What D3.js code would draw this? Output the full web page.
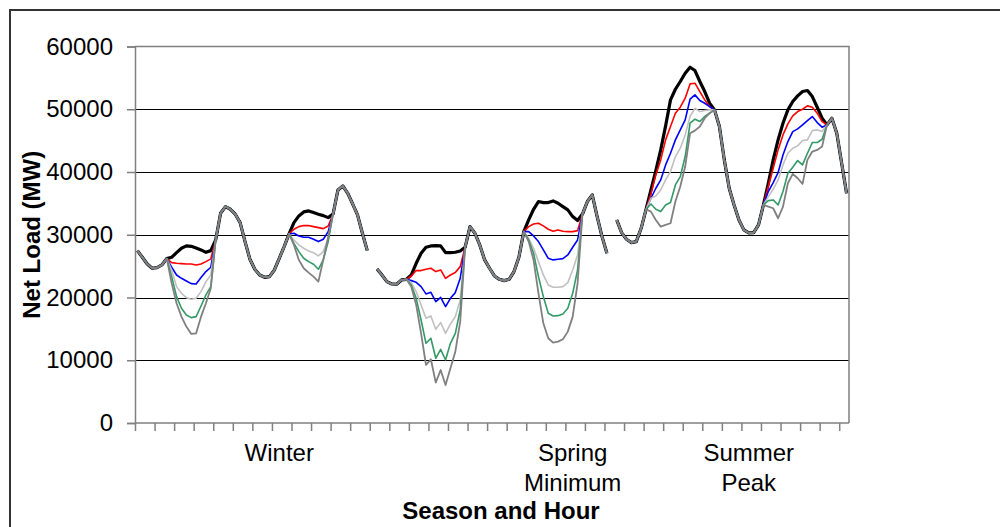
<!DOCTYPE html>
<html>
<head>
<meta charset="utf-8">
<script src="https://cdn.jsdelivr.net/npm/d3@7"></script>
<style>
  body { margin: 0; background: #fff; }
  text { font-family: "Liberation Sans", Arial, sans-serif; fill: #000; }
</style>
</head>
<body>
<script>

    // 146 hour slots: winter 0-47, gap 48, spring 49-96, gap 97, summer 98-145
    var slotCount = 146;

    // load shared by every case outside the solar hours (null = gap or solar window)
    var baseLoad = [
        27470, 26410, 25350, 24660, 24760, 25190, 26200,
        null, null, null, null, null, null, null, null, null,
        29170, 33430, 34490, 34060, 33270, 31940, 28910, 26090,
        24500, 23590, 23220, 23330, 24390, 26250, 28110, 30130,
        null, null, null, null, null, null, null, null,
        33300, 37150, 37780, 36610, 34910, 33160, 30240, 27470,
        null,
        24550, 23590, 22530, 22160, 22110, 22800, 22900,
        null, null, null, null, null, null, null, null, null, null, null,
        28000, 31300, 30240, 28380, 25990, 24660, 23430, 22900, 22690, 22900, 24130, 26410, 30500,
        null, null, null, null, null, null, null, null, null, null, null,
        33300, 35290, 36350, 32890, 29700, 27050,
        null,
        32360, 30340, 29280, 28750, 28910, 31030, 34060,
        null, null, null, null, null, null, null, null, null, null, null, null, null,
        49900, 47240, 41930, 37410, 34750, 32360, 30770, 30290, 30340, 31570, 34750,
        null, null, null, null, null, null, null, null, null, null, null, null,
        47510, 48570, 46180, 41400, 36610
    ];

    // first slot of each solar window (winter d1, d2, spring d1, d2, summer d1, d2)
    var windowStart = [7, 32, 56, 80, 105, 129];

    var blackLoad = [
        [26410, 27150, 27850, 28220, 28160, 27900, 27580, 27200, 27470],
        [31940, 33000, 33640, 33800, 33530, 33270, 33050, 32730],
        [23590, 25450, 27050, 28000, 28220, 28270, 28220, 27150, 27150, 27210, 27420],
        [32360, 34060, 35290, 35130, 35130, 35390, 35020, 34490, 33960, 32890, 32260],
        [37150, 40230, 43520, 47350, 51490, 53190, 54420, 55740, 56700, 56170, 54420, 52820, 50960],
        [38210, 41930, 45120, 47770, 49900, 51230, 52130, 52820, 52980, 52020, 50320, 48570]
    ];
    var redLoad = [
        [25560, 25450, 25400, 25350, 25350, 25190, 25350, 25720, 26150],
        [30880, 31300, 31460, 31460, 31300, 31140, 30980, 31400],
        [23430, 24290, 24290, 24500, 24660, 24130, 24390, 23060, 23590, 23970, 24920],
        [31300, 31720, 31830, 31410, 30880, 30560, 30770, 30560, 30500, 30500, 30660],
        [36510, 39540, 41930, 45120, 47240, 49370, 50320, 51760, 54040, 54150, 52820, 51490, 50430],
        [37680, 40600, 43520, 45910, 47670, 48940, 49630, 50000, 50540, 50320, 49370, 48040]
    ];
    var blueLoad = [
        [24820, 23590, 23060, 22640, 22210, 22160, 23170, 24130, 24820],
        [30240, 29810, 29600, 29600, 29280, 28910, 29280, 30500],
        [22690, 22420, 21730, 20570, 20830, 19340, 20030, 18550, 19870, 20780, 23060],
        [30500, 29810, 28910, 27580, 26250, 25990, 26090, 26200, 26780, 28000, 29170],
        [35820, 37410, 38740, 41130, 42990, 45120, 46710, 48300, 51600, 52290, 51390, 50960, 50430],
        [36880, 38310, 39910, 42720, 44850, 46440, 46870, 47510, 48200, 48840, 47880, 47140]
    ];
    var silverLoad = [
        [24390, 21730, 20670, 19980, 19710, 19870, 20940, 22530, 23590],
        [29170, 28380, 27850, 27420, 27150, 26620, 27310, 29440],
        [22370, 20940, 18810, 16690, 17060, 14930, 16000, 14290, 15780, 16950, 19610],
        [29440, 27850, 25720, 23590, 22000, 21630, 21630, 21730, 22370, 24390, 26780],
        [35820, 36190, 37150, 38740, 40070, 42460, 43790, 45910, 48840, 50160, 49630, 49790, 49900],
        [36080, 37250, 38740, 41130, 42990, 43790, 44160, 45010, 45120, 46600, 46710, 46440]
    ];
    var greenLoad = [
        [23330, 20140, 18280, 17220, 16790, 16950, 18650, 20410, 21730],
        [28640, 27310, 26250, 25720, 25290, 24500, 25990, 28910],
        [22000, 19870, 16420, 12700, 13500, 10310, 11740, 10040, 12700, 14290, 18010],
        [29170, 27050, 23330, 20140, 17480, 17060, 17110, 17380, 18280, 20670, 24390],
        [34910, 34060, 33690, 34750, 35130, 37940, 39270, 42460, 47770, 48410, 48040, 48840, 49370],
        [35440, 35550, 34750, 36880, 39800, 40760, 41820, 41130, 42990, 44690, 44690, 45220]
    ];
    var greyLoad = [
        [22270, 19080, 16950, 15360, 14190, 14290, 16950, 19080, 21470],
        [28380, 25990, 24660, 23970, 23330, 22530, 25990, 29600],
        [21730, 18810, 14290, 9250, 10150, 6430, 8450, 6060, 8720, 11370, 16150],
        [28910, 25990, 20670, 15890, 13500, 12810, 12970, 13340, 14560, 16950, 22270],
        [33690, 32360, 31300, 31570, 31830, 35290, 37680, 40870, 46180, 46600, 47240, 48570, 49370],
        [34490, 34220, 32630, 34490, 38210, 39700, 39000, 38100, 41930, 43260, 43520, 44050]
    ];

    var yTicks = [0, 10000, 20000, 30000, 40000, 50000, 60000];
    var seasonLabels = [
        {slot: 29, lines: ["Winter"]},
        {slot: 89, lines: ["Spring", "Minimum"]},
        {slot: 125, lines: ["Summer", "Peak"]}
    ];

    var series = [
        {name: "black", color: "#000000", width: 3.2, win: blackLoad},
        {name: "red", color: "#ff0000", width: 1.6, win: redLoad},
        {name: "blue", color: "#0000ff", width: 1.6, win: blueLoad},
        {name: "silver", color: "#c0c0c0", width: 1.6, win: silverLoad},
        {name: "green", color: "#339966", width: 1.6, win: greenLoad},
        {name: "grey", color: "#808080", width: 1.8, win: greyLoad}
    ];

    function fullSeries(win) {
        var v = baseLoad.slice();
        windowStart.forEach(function(s, w) {
            win[w].forEach(function(val, k) { v[s + k] = val; });
        });
        return v;
    }

    var W = 1000, H = 527;
    var plotL = 135, plotR = 849, plotT = 46.5, plotB = 423;

    var svg = d3.select("body").append("svg")
        .attr("width", W)
        .attr("height", H);

    // outer frame
    svg.append("rect")
        .attr("x", 10).attr("y", 10)
        .attr("width", 1000).attr("height", 600)
        .attr("fill", "none")
        .attr("stroke", "#333")
        .attr("stroke-width", 2);

    var x = d3.scaleBand().domain(d3.range(slotCount)).range([plotL, plotR]).padding(0);
    var xEdge = d3.scaleLinear().domain([0, slotCount]).range([plotL, plotR]);
    var y = d3.scaleLinear().domain([0, 60000]).range([plotB, plotT]);

    // gridlines
    svg.append("g")
        .attr("transform", "translate(" + plotL + ",0)")
        .call(d3.axisLeft(y).tickValues(yTicks.slice(1, -1)).tickSize(-(plotR - plotL)).tickFormat(""))
        .call(function(g) {
            g.select(".domain").remove();
            g.selectAll("line").attr("stroke", "#000").attr("shape-rendering", "crispEdges");
        });

    // plot border top/right
    svg.append("path")
        .attr("d", "M" + plotL + "," + y(60000) + "H" + plotR + "V" + plotB)
        .attr("fill", "none")
        .attr("stroke", "#808080")
        .attr("stroke-width", 1.5);

    // y axis
    svg.append("g")
        .attr("transform", "translate(" + plotL + ",0)")
        .call(d3.axisLeft(y).tickValues(yTicks).tickSize(8).tickPadding(14).tickFormat(d3.format("d")))
        .call(function(g) {
            g.selectAll("line, path").attr("stroke", "#808080").attr("stroke-width", 1.5);
            g.selectAll("text").attr("font-size", 24).attr("font-family", null);
        });

    // x axis ticks every 4 slots
    svg.append("g")
        .attr("transform", "translate(0," + plotB + ")")
        .call(d3.axisBottom(xEdge).tickValues(d3.range(0, 145, 4)).tickSize(8).tickFormat(""))
        .call(function(g) {
            g.select(".domain").attr("d", "M" + plotL + ",0H" + plotR);
            g.selectAll("line, path").attr("stroke", "#808080").attr("stroke-width", 1.5);
        });

    // season labels
    seasonLabels.forEach(function(s) {
        var cx = x(s.slot) + x.bandwidth() / 2;
        var t = svg.append("text")
            .attr("x", cx)
            .attr("y", 461)
            .attr("text-anchor", "middle")
            .attr("font-size", 24);
        s.lines.forEach(function(line, i) {
            t.append("tspan")
                .attr("x", cx)
                .attr("dy", i ? 30 : 0)
                .text(line);
        });
    });

    // axis titles
    svg.append("text")
        .attr("x", 501).attr("y", 519)
        .attr("text-anchor", "middle")
        .attr("font-size", 24).attr("font-weight", "bold")
        .text("Season and Hour");

    svg.append("text")
        .attr("transform", "translate(40," + ((plotT + plotB) / 2) + ") rotate(-90)")
        .attr("text-anchor", "middle")
        .attr("font-size", 24).attr("font-weight", "bold")
        .text("Net Load (MW)");

    var line = d3.line()
        .defined(function(d) { return d != null; })
        .x(function(d, i) { return x(i) + x.bandwidth() / 2; })
        .y(function(d) { return y(d); });

    svg.selectAll(".load")
        .data(series)
        .enter().append("path")
        .attr("class", "load")
        .attr("d", function(s) { return line(fullSeries(s.win)); })
        .attr("fill", "none")
        .attr("stroke", function(s) { return s.color; })
        .attr("stroke-width", function(s) { return s.width; })
        .attr("stroke-linejoin", "round");

</script>
</body>
</html>
